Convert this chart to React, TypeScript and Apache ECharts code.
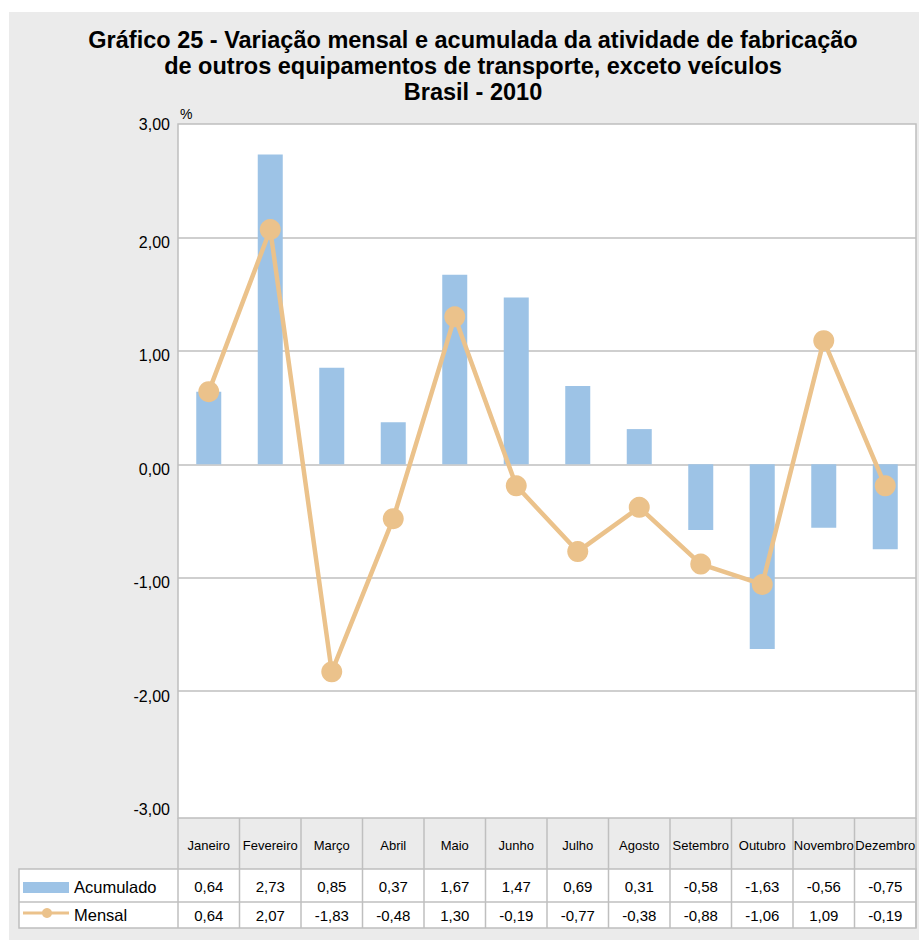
import React, { useEffect, useRef } from "react";
import * as echarts from "echarts";

const months = ["Janeiro", "Fevereiro", "Março", "Abril", "Maio", "Junho", "Julho", "Agosto", "Setembro", "Outubro", "Novembro", "Dezembro"];
const acumulado = [0.64, 2.73, 0.85, 0.37, 1.67, 1.47, 0.69, 0.31, -0.58, -1.63, -0.56, -0.75];
const mensal = [0.64, 2.07, -1.83, -0.48, 1.3, -0.19, -0.77, -0.38, -0.88, -1.06, 1.09, -0.19];
const titleLines = [
  "Gráfico 25 - Variação mensal e acumulada da atividade de fabricação",
  "de outros equipamentos de transporte, exceto veículos",
  "Brasil - 2010",
];
const seriesNames = ["Acumulado", "Mensal"];

const fmt = (v: number) => v.toFixed(2).replace(".", ",");

const BAR = "#9DC3E6";
const LINE = "#EBC28B";
const BORDER = "#BFBFBF";
const FONT = '"Liberation Sans", Arial, sans-serif';

export default function App() {
  const ref = useRef<HTMLDivElement>(null);
  useEffect(() => {
    if (!ref.current) return;
    const chart = echarts.init(ref.current, null, { renderer: "svg" });

    const plotL = 178, plotR = 916, plotT = 124, plotB = 818;
    const colW = (plotR - plotL) / months.length;
    const headB = 869, row1B = 902, row2B = 928, tabL = 19;

    const els: any[] = [];
    els.push({ type: "rect", z: -10, shape: { x: 9, y: 12, width: 910, height: 928 }, style: { fill: "#EBEBEB" } });
    els.push({ type: "rect", z: -5, shape: { x: plotL, y: plotT, width: plotR - plotL, height: plotB - plotT }, style: { fill: "#fff", stroke: BORDER, lineWidth: 1.5 } });
    titleLines.forEach((t, i) => {
      els.push({ type: "text", x: 473, y: 40 + i * 26, style: { text: t, font: `bold 23.5px ${FONT}`, fill: "#000", textAlign: "center", textVerticalAlign: "middle" } });
    });
    els.push({ type: "text", x: 180, y: 114, style: { text: "%", font: `14px ${FONT}`, fill: "#000", textAlign: "left", textVerticalAlign: "middle" } });

    // table rows background
    els.push({ type: "rect", z: -5, shape: { x: tabL, y: headB, width: plotR - tabL, height: row2B - headB }, style: { fill: "#fff", stroke: BORDER, lineWidth: 1.5 } });
    els.push({ type: "line", shape: { x1: tabL, y1: row1B, x2: plotR, y2: row1B }, style: { stroke: BORDER, lineWidth: 1.5 } });
    els.push({ type: "line", shape: { x1: plotL, y1: plotB, x2: plotL, y2: row2B }, style: { stroke: BORDER, lineWidth: 1.5 } });
    els.push({ type: "line", shape: { x1: plotR, y1: plotB, x2: plotR, y2: row2B }, style: { stroke: BORDER, lineWidth: 1.5 } });
    for (let i = 1; i < months.length; i++) {
      const x = plotL + i * colW;
      els.push({ type: "line", shape: { x1: x, y1: plotB, x2: x, y2: row2B }, style: { stroke: BORDER, lineWidth: 1.5 } });
    }
    months.forEach((m, i) => {
      const cx = plotL + (i + 0.5) * colW;
      els.push({ type: "text", x: cx, y: 845, style: { text: m, font: `13px ${FONT}`, fill: "#000", textAlign: "center", textVerticalAlign: "middle" } });
      els.push({ type: "text", x: cx, y: 886, style: { text: fmt(acumulado[i]), font: `15px ${FONT}`, fill: "#000", textAlign: "center", textVerticalAlign: "middle" } });
      els.push({ type: "text", x: cx, y: 915, style: { text: fmt(mensal[i]), font: `15px ${FONT}`, fill: "#000", textAlign: "center", textVerticalAlign: "middle" } });
    });
    // legend keys
    els.push({ type: "rect", shape: { x: 23, y: 882, width: 46, height: 11 }, style: { fill: BAR } });
    els.push({ type: "line", shape: { x1: 23, y1: 913, x2: 69, y2: 913 }, style: { stroke: LINE, lineWidth: 3 } });
    els.push({ type: "circle", shape: { cx: 47, cy: 913, r: 5 }, style: { fill: LINE } });
    els.push({ type: "text", x: 74, y: 887, style: { text: seriesNames[0], font: `16.5px ${FONT}`, fill: "#000", textAlign: "left", textVerticalAlign: "middle" } });
    els.push({ type: "text", x: 74, y: 915, style: { text: seriesNames[1], font: `16.5px ${FONT}`, fill: "#000", textAlign: "left", textVerticalAlign: "middle" } });

    chart.setOption({
      animation: false,
      backgroundColor: "#fff",
      grid: { left: plotL, top: plotT, width: plotR - plotL, height: 680.5, containLabel: false },
      xAxis: {
        type: "category",
        data: months,
        axisLine: { show: false },
        axisTick: { show: false },
        axisLabel: { show: false },
      },
      yAxis: {
        type: "value",
        min: -3,
        max: 3,
        interval: 1,
        axisLine: { show: false },
        axisTick: { show: false },
        axisLabel: {
          formatter: (v: number) => (v >= 3 ? `{t|${fmt(v)}}` : `{d|${fmt(v)}}`),
          fontSize: 16,
          color: "#000",
          fontFamily: FONT,
          margin: 8,
          rich: {
            t: { fontSize: 16, color: "#000", fontFamily: FONT },
            d: { fontSize: 16, color: "#000", fontFamily: FONT, padding: [10, 0, 0, 0] },
          },
        },
        splitLine: { show: true, showMinLine: false, showMaxLine: false, lineStyle: { color: BORDER, width: 1.5 } },
      },
      graphic: { elements: els },
      series: [
        {
          name: seriesNames[0],
          type: "bar",
          data: acumulado,
          barWidth: 25,
          itemStyle: { color: BAR },
          z: 2,
        },
        {
          name: seriesNames[1],
          type: "line",
          data: mensal,
          symbol: "circle",
          symbolSize: 21,
          lineStyle: { color: LINE, width: 4.5 },
          itemStyle: { color: LINE },
          z: 3,
        },
      ],
    });
    return () => chart.dispose();
  }, []);
  return <div ref={ref} style={{ position: "absolute", left: 0, top: 0, width: 919, height: 940 }} />;
}
